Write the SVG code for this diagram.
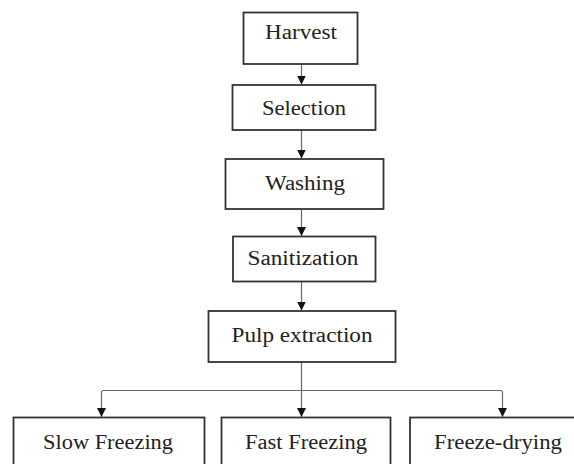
<svg xmlns="http://www.w3.org/2000/svg" width="574" height="464" viewBox="0 0 574 464">
<style>
.box{fill:#fff;stroke:#333;stroke-width:1.8}
.lbl{font-family:"Liberation Serif","Times New Roman",serif;font-size:20px;fill:#222;text-anchor:middle}
.con{fill:none;stroke:#666;stroke-width:1.2}
</style>
<defs>
<marker id="ah" markerUnits="userSpaceOnUse" markerWidth="10" markerHeight="9" refX="9" refY="4.5" orient="auto" viewBox="0 0 10 9">
<path d="M0,0 L9,4.5 L0,9 z" fill="#111"/>
</marker>
</defs>
<rect width="574" height="464" fill="#fff"/>
<g id="connectors">
<line class="con" x1="301.5" y1="64" x2="301.5" y2="84.5" marker-end="url(#ah)"/>
<line class="con" x1="301.5" y1="130" x2="301.5" y2="158.5" marker-end="url(#ah)"/>
<line class="con" x1="301.5" y1="209" x2="301.5" y2="236" marker-end="url(#ah)"/>
<line class="con" x1="301.5" y1="281.5" x2="301.5" y2="310.5" marker-end="url(#ah)"/>
<line class="con" x1="301.5" y1="362" x2="301.5" y2="417" marker-end="url(#ah)"/>
<path class="con" d="M301.5,390.5 H103.5 Q101.5,390.5 101.5,392.5 V417" marker-end="url(#ah)"/>
<path class="con" d="M301.5,390.5 H500.5 Q502.5,390.5 502.5,392.5 V417" marker-end="url(#ah)"/>
</g>
<g id="harvest">
<rect class="box" x="243.5" y="12.5" width="114" height="51.5"/>
<text class="lbl" x="301" y="39" textLength="72" lengthAdjust="spacingAndGlyphs">Harvest</text>
</g>
<g id="selection">
<rect class="box" x="232.5" y="85" width="143" height="45"/>
<text class="lbl" x="304" y="115" textLength="84" lengthAdjust="spacingAndGlyphs">Selection</text>
</g>
<g id="washing">
<rect class="box" x="225.5" y="159" width="158" height="50"/>
<text class="lbl" x="305" y="190" textLength="80" lengthAdjust="spacingAndGlyphs">Washing</text>
</g>
<g id="sanitization">
<rect class="box" x="233" y="236.5" width="142.5" height="45"/>
<text class="lbl" x="303" y="265" textLength="111" lengthAdjust="spacingAndGlyphs">Sanitization</text>
</g>
<g id="pulp">
<rect class="box" x="208.5" y="311" width="187" height="51"/>
<text class="lbl" x="302" y="342" textLength="141" lengthAdjust="spacingAndGlyphs">Pulp extraction</text>
</g>
<g id="slow">
<rect class="box" x="13.5" y="417.5" width="191" height="60"/>
<text class="lbl" x="108" y="449" textLength="130" lengthAdjust="spacingAndGlyphs">Slow Freezing</text>
</g>
<g id="fast">
<rect class="box" x="221.5" y="417.5" width="169" height="60"/>
<text class="lbl" x="306" y="449" textLength="122" lengthAdjust="spacingAndGlyphs">Fast Freezing</text>
</g>
<g id="freezedrying">
<rect class="box" x="410" y="417.5" width="175" height="60"/>
<text class="lbl" x="498" y="449" textLength="128" lengthAdjust="spacingAndGlyphs">Freeze-drying</text>
</g>
</svg>
